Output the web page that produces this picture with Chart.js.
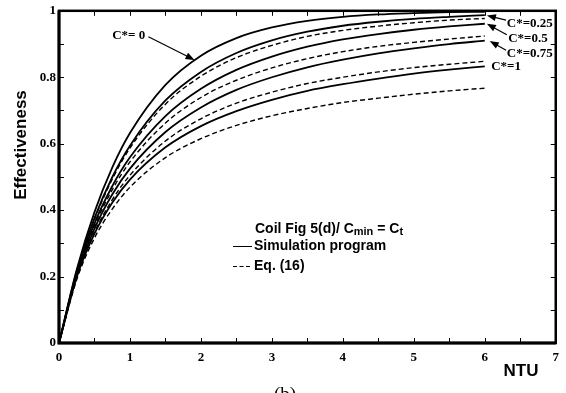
<!DOCTYPE html>
<html>
<head>
<meta charset="utf-8">
<script src="https://cdn.jsdelivr.net/npm/chart.js@4"></script>
<style>
  html, body { margin: 0; padding: 0; background: #fff; }
  #wrap { width: 566px; height: 393px; }
</style>
</head>
<body>
<div id="wrap"><canvas id="effChart" width="566" height="393"></canvas></div>
<script>
// NTU values where the curves were read
const ntu = [0, 0.25, 0.5, 0.75, 1, 1.5, 2, 2.5, 3, 3.5, 4, 4.5, 5, 5.5, 6];

// simulation program (solid)
const sim0   = [0, 0.221, 0.394, 0.528, 0.632, 0.777, 0.865, 0.918, 0.950, 0.970, 0.982, 0.989, 0.993, 0.996, 0.997];
const sim025 = [0, 0.215, 0.376, 0.499, 0.594, 0.730, 0.816, 0.873, 0.911, 0.937, 0.955, 0.967, 0.976, 0.982, 0.987];
const sim05  = [0, 0.209, 0.360, 0.472, 0.559, 0.683, 0.765, 0.822, 0.862, 0.892, 0.914, 0.930, 0.943, 0.953, 0.961];
const sim075 = [0, 0.203, 0.344, 0.447, 0.525, 0.635, 0.709, 0.762, 0.800, 0.830, 0.853, 0.872, 0.887, 0.900, 0.910];
const sim1   = [0, 0.198, 0.329, 0.422, 0.492, 0.589, 0.653, 0.698, 0.732, 0.759, 0.779, 0.796, 0.811, 0.823, 0.833];

// Eq. (16) (dashed)
const eq025 = [0, 0.213, 0.372, 0.493, 0.587, 0.719, 0.803, 0.859, 0.896, 0.923, 0.941, 0.954, 0.964, 0.972, 0.977];
const eq05  = [0, 0.206, 0.352, 0.461, 0.545, 0.662, 0.739, 0.791, 0.828, 0.856, 0.877, 0.893, 0.905, 0.915, 0.924];
const eq075 = [0, 0.198, 0.333, 0.431, 0.505, 0.608, 0.675, 0.722, 0.755, 0.781, 0.800, 0.816, 0.829, 0.839, 0.848];
const eq1   = [0, 0.191, 0.316, 0.403, 0.469, 0.558, 0.615, 0.655, 0.684, 0.706, 0.724, 0.737, 0.749, 0.759, 0.767];

// curve labels: text, text anchor (data), arrow start and tip (data)
const curveLabels = [
  { text: "C*= 0",   at: [0.75, 0.925], from: [1.26, 0.922], tip: [1.91, 0.852] },
  { text: "C*=0.25", at: [6.31, 0.962], from: [6.30, 0.972], tip: [6.03, 0.986] },
  { text: "C*=0.5",  at: [6.33, 0.917], from: [6.31, 0.928], tip: [6.03, 0.961] },
  { text: "C*=0.75", at: [6.31, 0.870], from: [6.30, 0.881], tip: [6.07, 0.909] },
  { text: "C*=1",    at: [6.09, 0.831], from: null, tip: null }
];

const SERIF = "'Liberation Serif', 'Times New Roman', serif";
const SANS = "'Liberation Sans', Arial, sans-serif";

function pts(vals) {
  return ntu.map((n, i) => ({ x: n, y: vals[i] }));
}

function solid(vals) {
  return { data: pts(vals), borderColor: "#000", borderWidth: 1.8, pointRadius: 0,
           cubicInterpolationMode: "monotone", fill: false };
}
function dashed(vals) {
  return { data: pts(vals), borderColor: "#000", borderWidth: 1.4, borderDash: [5, 3], pointRadius: 0,
           cubicInterpolationMode: "monotone", fill: false };
}

const decor = {
  id: "decor",
  afterDraw(chart) {
    const { ctx, chartArea: a, scales: { x, y } } = chart;
    ctx.save();
    ctx.strokeStyle = "#000";
    ctx.fillStyle = "#000";

    // frame
    ctx.lineWidth = 2.5;
    ctx.strokeRect(a.left, a.top, a.right - a.left, a.bottom - a.top);
    ctx.lineWidth = 3;
    ctx.beginPath();
    ctx.moveTo(a.left, a.top);
    ctx.lineTo(a.left, a.bottom);
    ctx.lineTo(a.right, a.bottom);
    ctx.stroke();

    // inward ticks
    ctx.lineWidth = 1;
    ctx.beginPath();
    for (let v = 0.5; v < 7; v += 0.5) {
      const px = Math.round(x.getPixelForValue(v)) + 0.5;
      ctx.moveTo(px, a.bottom); ctx.lineTo(px, a.bottom - 5);
      ctx.moveTo(px, a.top); ctx.lineTo(px, a.top + 5);
    }
    for (let v = 0.1; v < 1; v += 0.1) {
      const py = Math.round(y.getPixelForValue(v)) + 0.5;
      ctx.moveTo(a.left, py); ctx.lineTo(a.left + 5, py);
      ctx.moveTo(a.right, py); ctx.lineTo(a.right - 5, py);
    }
    ctx.stroke();

    // curve labels with arrows
    ctx.font = "bold 13px " + SERIF;
    ctx.textBaseline = "middle";
    ctx.textAlign = "left";
    curveLabels.forEach((c) => {
      ctx.fillText(c.text, x.getPixelForValue(c.at[0]), y.getPixelForValue(c.at[1]));
      if (!c.from) return;
      const x0 = x.getPixelForValue(c.from[0]), y0 = y.getPixelForValue(c.from[1]);
      const x1 = x.getPixelForValue(c.tip[0]), y1 = y.getPixelForValue(c.tip[1]);
      const ang = Math.atan2(y1 - y0, x1 - x0);
      ctx.lineWidth = 1.2;
      ctx.beginPath();
      ctx.moveTo(x0, y0);
      ctx.lineTo(x1 - 6 * Math.cos(ang), y1 - 6 * Math.sin(ang));
      ctx.stroke();
      ctx.beginPath();
      ctx.moveTo(x1, y1);
      ctx.lineTo(x1 - 9 * Math.cos(ang) + 3.5 * Math.sin(ang), y1 - 9 * Math.sin(ang) - 3.5 * Math.cos(ang));
      ctx.lineTo(x1 - 9 * Math.cos(ang) - 3.5 * Math.sin(ang), y1 - 9 * Math.sin(ang) + 3.5 * Math.cos(ang));
      ctx.closePath();
      ctx.fill();
    });

    // legend block
    let tx = 255, ty = 229;
    const parts = [["Coil Fig 5(d)/ C", 0], ["min", 1], [" = C", 0], ["t", 1]];
    parts.forEach(([s, sub]) => {
      ctx.font = (sub ? "bold 11px " : "bold 14px ") + SANS;
      ctx.fillText(s, tx, ty + (sub ? 3 : 0));
      tx += ctx.measureText(s).width;
    });
    ctx.font = "bold 14px " + SANS;
    ctx.fillText("Simulation program", 254, 246);
    ctx.fillText("Eq. (16)", 254, 266);
    ctx.lineWidth = 1;
    ctx.beginPath();
    ctx.moveTo(233, 246.5); ctx.lineTo(252, 246.5);
    ctx.stroke();
    ctx.setLineDash([4, 2.5]);
    ctx.beginPath();
    ctx.moveTo(233, 266.5); ctx.lineTo(252, 266.5);
    ctx.stroke();
    ctx.setLineDash([]);

    // axis titles
    ctx.font = "bold 17px " + SANS;
    ctx.textAlign = "center";
    ctx.fillText("NTU", 521, 371);
    ctx.save();
    ctx.translate(21, 145);
    ctx.rotate(-Math.PI / 2);
    ctx.fillText("Effectiveness", 0, 0);
    ctx.restore();

    // panel caption
    ctx.font = "19px " + SERIF;
    ctx.fillText("(b)", 285, 395);
    ctx.restore();
  }
};

new Chart(document.getElementById("effChart").getContext("2d"), {
  type: "line",
  data: {
    datasets: [
      solid(sim0), solid(sim025), dashed(eq025), solid(sim05), dashed(eq05),
      solid(sim075), dashed(eq075), solid(sim1), dashed(eq1)
    ]
  },
  options: {
    responsive: false,
    animation: false,
    layout: { padding: { top: 8, right: 7, left: 0, bottom: 0 } },
    plugins: { legend: { display: false }, tooltip: { enabled: false } },
    scales: {
      x: {
        type: "linear", min: 0, max: 7,
        grid: { display: false, drawTicks: false },
        border: { display: false },
        ticks: { stepSize: 1, color: "#000", padding: 7, font: { family: SERIF, size: 13, weight: "bold" } },
        afterFit: (s) => { s.height = 50; }
      },
      y: {
        min: 0, max: 1,
        grid: { display: false, drawTicks: false },
        border: { display: false },
        ticks: {
          stepSize: 0.2, color: "#000", padding: 3,
          font: { family: SERIF, size: 13, weight: "bold" },
          callback: (v) => String(Math.round(v * 10) / 10)
        },
        afterFit: (s) => { s.width = 59; }
      }
    }
  },
  plugins: [decor]
});
</script>
</body>
</html>
